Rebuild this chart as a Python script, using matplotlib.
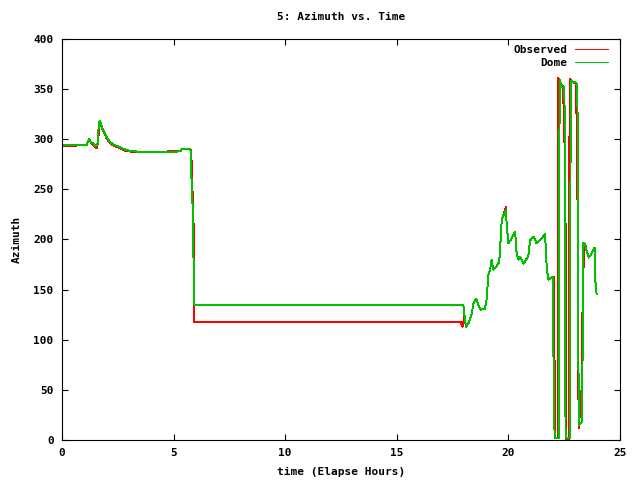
import numpy as np
import matplotlib
matplotlib.use("Agg")
import matplotlib.pyplot as plt

# Dome azimuth samples (hours, degrees)
dome_t = [0.0, 1.1, 1.21, 1.3, 1.4, 1.5, 1.6, 1.65, 1.7, 1.78, 1.85, 2.0, 2.15, 2.37,
          2.6, 2.9, 3.64, 4.7, 5.3, 5.36, 5.73, 5.77, 5.8, 5.84, 5.87, 5.9, 5.93,
          17.98, 18.03, 18.1, 18.2, 18.35, 18.43, 18.55, 18.65, 18.76, 18.95, 19.03,
          19.1, 19.18, 19.25, 19.32, 19.47, 19.59, 19.62, 19.7, 19.77, 19.89, 19.92,
          20.0, 20.15, 20.3, 20.37, 20.44, 20.52, 20.67, 20.89, 20.97, 21.12, 21.27,
          21.49, 21.64, 21.72, 21.79, 22.0, 22.02, 22.07, 22.25, 22.28, 22.3, 22.34,
          22.4, 22.51, 22.53, 22.56, 22.76, 22.79, 23.0, 23.09, 23.11, 23.13, 23.16,
          23.3, 23.36, 23.4, 23.5, 23.6, 23.7, 23.8, 23.87, 23.9, 23.95]
dome_az = [294, 294, 300, 297, 296, 293, 296, 316, 318, 313, 309, 302, 297, 294,
           292, 289, 287, 287, 288, 290, 290, 288, 262, 240, 222, 165, 135,
           135, 125, 113, 116, 125, 136, 141, 135, 130, 131, 141,
           165, 170, 180, 170, 173, 178, 188, 219, 224, 229, 216,
           196, 201, 208, 186, 180, 183, 176, 183, 199, 203, 196,
           201, 206, 171, 160, 163, 83, 2, 2, 271, 359, 356,
           352, 352, 264, 2, 2, 358, 357, 355, 270, 98, 15,
           18, 197, 197, 189, 182, 185, 189, 192, 158, 146]

# Observed azimuth samples (hours, degrees)
obs_t = [0.0, 0.6, 0.62, 1.1, 1.21, 1.3, 1.4, 1.55, 1.62, 1.67, 1.7, 1.78, 1.85, 2.0,
         2.15, 2.37, 2.6, 2.9, 3.64, 4.7, 4.75, 5.3, 5.36, 5.73, 5.78, 5.8, 5.83,
         5.86, 5.89, 5.91, 5.93, 17.86, 17.9, 17.95, 18.03, 18.1, 18.2, 18.35, 18.43,
         18.55, 18.65, 18.76, 18.95, 19.03, 19.1, 19.18, 19.25, 19.32, 19.47, 19.59,
         19.62, 19.7, 19.77, 19.89, 19.92, 20.0, 20.15, 20.3, 20.37, 20.44, 20.52,
         20.67, 20.89, 20.97, 21.12, 21.27, 21.49, 21.64, 21.72, 21.79, 22.0, 22.03,
         22.1, 22.2, 22.21, 22.23, 22.45, 22.55, 22.6, 22.72, 22.74, 23.03, 23.09,
         23.12, 23.15, 23.3, 23.32, 23.37, 23.4, 23.45, 23.5, 23.6, 23.7, 23.8,
         23.87, 23.9, 23.95]
obs_az = [293, 293, 294, 294, 300, 297, 294, 291, 298, 317, 318, 312, 308, 301,
          296, 293, 291, 288, 287, 287, 288, 288, 290, 290, 289, 281, 261,
          238, 223, 162, 118, 118, 115, 113, 124, 113, 116, 125, 136,
          141, 135, 130, 131, 141, 165, 170, 180, 170, 173, 178,
          188, 219, 224, 232, 216, 196, 201, 208, 186, 180, 183,
          176, 183, 199, 203, 196, 201, 206, 171, 160, 163, 163,
          2, 2, 180, 361, 352, 264, 0, 0, 360, 355, 270,
          98, 12, 57, 130, 176, 194, 194, 189, 182, 185, 189,
          192, 158, 146]

plt.rcParams['font.family'] = ['DejaVu Sans Mono']
plt.rcParams['font.weight'] = 'bold'
plt.rcParams['font.size'] = 8

fig = plt.figure(figsize=(6.4, 4.8), dpi=100)
ax = fig.add_axes([62 / 640, 40 / 480, 558 / 640, 401 / 480])

ax.plot(obs_t, obs_az, color='#ff0000', lw=0.7, antialiased=False, label='Observed')
ax.plot(dome_t, dome_az, color='#00c000', lw=0.7, antialiased=False, label='Dome')

ax.set_xlim(0, 25)
ax.set_ylim(0, 400)
ax.set_xticks(np.arange(0, 26, 5))
ax.set_yticks(np.arange(0, 401, 50))
ax.tick_params(direction='in', top=True, right=True, length=4, width=0.8, pad=6)
for s in ax.spines.values():
    s.set_linewidth(0.8)

ax.set_title('5: Azimuth vs. Time', fontsize=8, fontweight='bold', pad=14)
ax.set_xlabel('time (Elapse Hours)', fontweight='bold', labelpad=6)
ax.set_ylabel('Azimuth', fontweight='bold', labelpad=8)

ax.legend(loc='upper right', frameon=False, markerfirst=False, handlelength=3.0,
          handletextpad=0.7, labelspacing=0.25, borderaxespad=0.15,
          bbox_to_anchor=(0.99, 1.0))

fig.savefig('out.png', dpi=100)
